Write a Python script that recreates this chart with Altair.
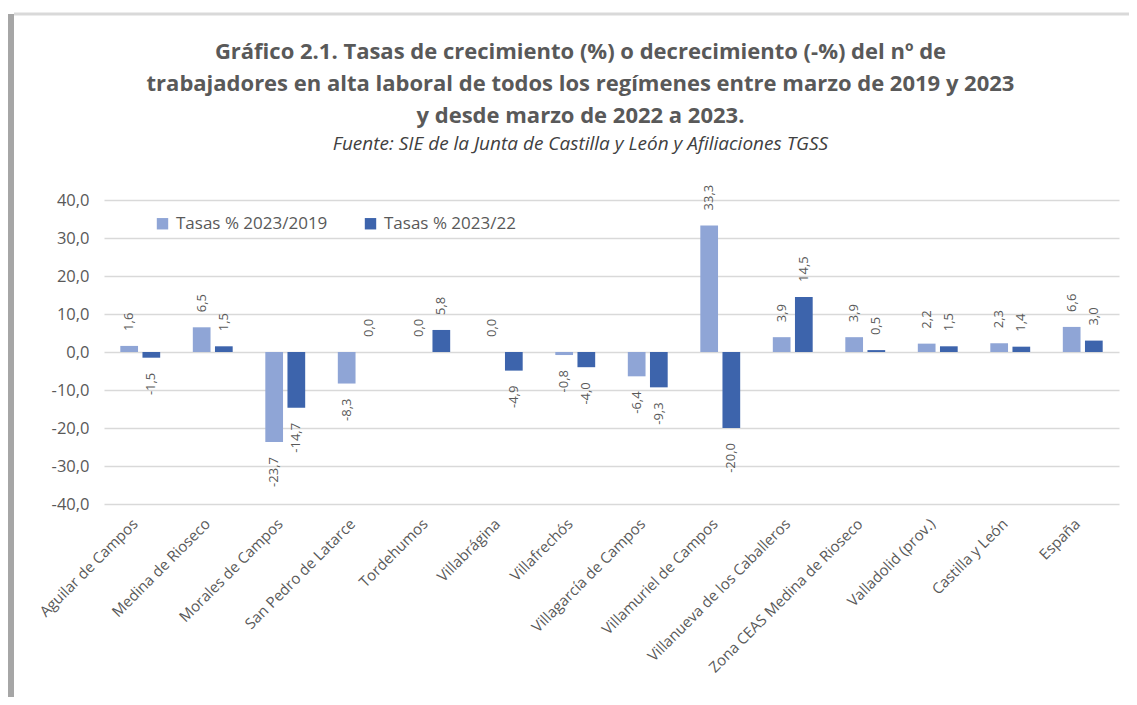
import altair as alt
import pandas as pd

categories = ["Aguilar de Campos", "Medina de Rioseco", "Morales de Campos",
              "San Pedro de Latarce", "Tordehumos", "Villabrágina", "Villafrechós",
              "Villagarcía de Campos", "Villamuriel de Campos",
              "Villanueva de los Caballeros", "Zona CEAS Medina de Rioseco",
              "Valladolid (prov.)", "Castilla y León", "España"]
series = ["Tasas % 2023/2019", "Tasas % 2023/22"]
v2019 = [1.6, 6.5, -23.7, -8.3, 0.0, 0.0, -0.8, -6.4, 33.3, 3.9, 3.9, 2.2, 2.3, 6.6]
v2022 = [-1.5, 1.5, -14.7, 0.0, 5.8, -4.9, -4.0, -9.3, -20.0, 14.5, 0.5, 1.5, 1.4, 3.0]
colors = ["#8FA5D6", "#3D64AC"]
y_ticks = [-40, -30, -20, -10, 0, 10, 20, 30, 40]

rows = []
for c, a, b in zip(categories, v2019, v2022):
    rows.append({"cat": c, "serie": series[0], "v": a})
    rows.append({"cat": c, "serie": series[1], "v": b})
df = pd.DataFrame(rows)

TXT = "#595959"
FONT = "Open Sans"

x_enc = alt.X("cat:N", sort=categories, title=None,
              scale=alt.Scale(paddingInner=0.45, paddingOuter=0.225),
              axis=alt.Axis(labelAngle=-45, labelFontSize=15, labelFont=FONT,
                            labelColor=TXT, labelPadding=12, labelOffset=-10,
                            ticks=False, domain=False, grid=False, labelLimit=300))
xo_enc = alt.XOffset("serie:N", sort=series,
                     scale=alt.Scale(paddingInner=0.2, paddingOuter=0))
y_scale = alt.Scale(domain=[-40, 40], nice=False)
y_axis = alt.Axis(values=y_ticks, tickCount=9, format=".1f", labelFontSize=16.5,
                  labelFont=FONT, labelColor=TXT, labelPadding=15,
                  labelOverlap=False, ticks=False, domain=False, grid=True,
                  gridColor="#d9d9d9", gridWidth=1.6)
y_enc = alt.Y("v:Q", scale=y_scale, title=None, axis=y_axis)

base = alt.Chart(df)

bars = base.mark_bar().encode(
    x=x_enc,
    xOffset=xo_enc,
    y=y_enc,
    color=alt.Color("serie:N", sort=series,
                    scale=alt.Scale(domain=series, range=colors),
                    legend=alt.Legend(title=None, orient="none", direction="horizontal",
                                      legendX=50, legendY=15, symbolType="square",
                                      symbolSize=130, symbolStrokeWidth=0,
                                      labelFontSize=17, labelFont=FONT,
                                      labelColor=TXT, labelOffset=5,
                                      columnPadding=34)),
)

pos = base.transform_filter("datum.v >= 0").mark_text(
    angle=270, align="left", baseline="middle", dx=15,
    fontSize=13, font=FONT, color=TXT
).encode(x=x_enc, xOffset=xo_enc, y=y_enc,
         text=alt.Text("v:Q", format=".1f"))

neg = base.transform_filter("datum.v < 0").mark_text(
    angle=270, align="right", baseline="middle", dx=-15,
    fontSize=13, font=FONT, color=TXT
).encode(x=x_enc, xOffset=xo_enc, y=y_enc,
         text=alt.Text("v:Q", format=".1f"))

frame_left = alt.Chart(pd.DataFrame({"k": [0]})).mark_rule(
    color="#a6a6a6", strokeWidth=6
).encode(x=alt.value(-93), y=alt.value(-186), y2=alt.value(500))
frame_top = alt.Chart(pd.DataFrame({"k": [0]})).mark_rule(
    color="#d9d9d9", strokeWidth=3
).encode(x=alt.value(-90), x2=alt.value(1030), y=alt.value(-186))

chart = alt.layer(frame_left, frame_top, bars, pos, neg).properties(
    width=1015, height=304,
    autosize=alt.AutoSizeParams(type="none"),
    padding={"left": 96, "top": 192, "right": 10, "bottom": 193},
    background="white",
    title=alt.TitleParams(
        text=["Gráfico 2.1. Tasas de crecimiento (%) o decrecimiento (-%) del nº de",
              "trabajadores en alta laboral de todos los regímenes entre marzo de 2019 y 2023",
              "y desde marzo de 2022 a 2023."],
        subtitle="Fuente: SIE de la Junta de Castilla y León y Afiliaciones TGSS",
        font=FONT, fontSize=22, fontWeight="bold", color=TXT, lineHeight=32,
        subtitleFont=FONT, subtitleFontSize=19, subtitleFontStyle="italic",
        subtitleColor="#404040", subtitlePadding=7,
        anchor="middle", dx=-31, offset=-144,
    ),
).configure_view(stroke=None)

chart.save("out.html", embed_options={
    "renderer": "svg", "actions": False,
    "formatLocale": {"decimal": ",", "thousands": ".", "grouping": [3],
                     "currency": ["", " €"], "minus": "-"},
})
